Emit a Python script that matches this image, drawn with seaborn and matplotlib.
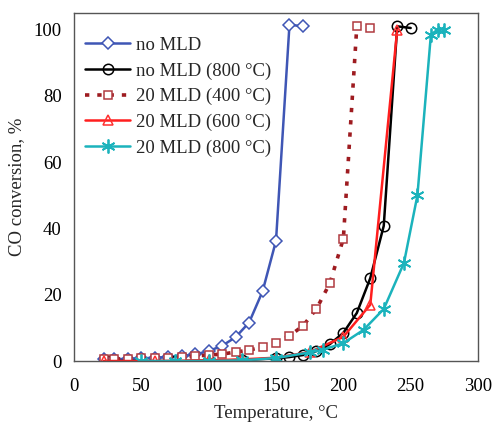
import matplotlib
matplotlib.use("Agg")
import matplotlib.pyplot as plt
import seaborn as sns
import pandas as pd

# ---- data ----
noMLD_x = [22, 30, 40, 50, 60, 70, 80, 90, 100, 110, 120, 130, 140, 150, 160, 170]
noMLD_y = [0.5, 0.5, 0.7, 0.8, 1.0, 1.2, 1.5, 2.0, 3.0, 4.6, 7.2, 11.6, 21.0, 36.3, 101.5, 101.0]

noMLD800_x = [25, 50, 75, 100, 125, 150, 160, 170, 180, 190, 200, 210, 220, 230, 240, 250]
noMLD800_y = [0.0, 0.0, 0.0, 0.1, 0.3, 0.8, 1.2, 1.8, 3.0, 5.1, 8.5, 14.5, 25.0, 40.8, 101.0, 100.5]

mld400_x = [22, 30, 40, 50, 60, 70, 80, 90, 100, 110, 120, 130, 140, 150, 160, 170, 180, 190, 200, 210, 220]
mld400_y = [0.5, 0.6, 0.7, 0.8, 0.9, 1.0, 1.2, 1.5, 1.8, 2.1, 2.7, 3.3, 4.2, 5.4, 7.6, 10.6, 15.7, 23.5, 36.9, 101.0, 100.5]

mld600_x = [22, 60, 100, 125, 150, 175, 200, 220, 240]
mld600_y = [0.0, 0.0, 0.2, 0.5, 1.0, 2.7, 7.3, 17.0, 100.0]

mld800_x = [50, 75, 100, 125, 150, 175, 185, 200, 215, 230, 245, 255, 265, 270, 275]
mld800_y = [0.0, 0.0, 0.0, 0.2, 0.9, 2.6, 3.4, 5.4, 9.4, 15.7, 29.6, 50.0, 98.5, 100.0, 100.0]

labels = ["no MLD", "no MLD (800 °C)", "20 MLD (400 °C)", "20 MLD (600 °C)", "20 MLD (800 °C)"]
x_ticks = [0, 50, 100, 150, 200, 250, 300]
y_ticks = [0, 20, 40, 60, 80, 100]

# ---- style ----
sns.set_theme(style="white")
plt.rcParams['font.family'] = ['Liberation Serif', 'DejaVu Serif']

fig = plt.figure(figsize=(4.95, 4.22), dpi=100)
ax = fig.add_axes([0.1495, 0.1445, 0.8162, 0.8245])

series = [
    (noMLD_x, noMLD_y, labels[0], dict(color="#3F56B5", marker="D", markersize=6.3,
                                       markerfacecolor="white", markeredgecolor="#3F56B5",
                                       markeredgewidth=1.1, linestyle="-", linewidth=1.8)),
    (noMLD800_x, noMLD800_y, labels[1], dict(color="black", marker="o", markersize=7.5,
                                             markerfacecolor="none", markeredgecolor="black",
                                             markeredgewidth=1.1, linestyle="-", linewidth=1.8)),
    (mld400_x, mld400_y, labels[2], dict(color="#9E1B20", marker="s", markersize=6.3,
                                         markerfacecolor="white", markeredgecolor="#B03A40",
                                         markeredgewidth=1.1, linestyle=(0, (1.2, 2.2)),
                                         linewidth=2.6)),
    (mld600_x, mld600_y, labels[3], dict(color="#FF1E1E", marker="^", markersize=7.5,
                                         markerfacecolor="none", markeredgecolor="#FF3030",
                                         markeredgewidth=1.1, linestyle="-", linewidth=1.8)),
    (mld800_x, mld800_y, labels[4], dict(color="#1BB3BC", marker=(6, 2, 0), markersize=10,
                                         markeredgecolor="#1BB3BC", markeredgewidth=1.3,
                                         linestyle="-", linewidth=1.8)),
]

for xs, ys, lab, kw in series:
    df = pd.DataFrame({"T": xs, "C": ys})
    sns.lineplot(data=df, x="T", y="C", ax=ax, label=lab, sort=False,
                 estimator=None, **kw)

ax.set_xlim(0, 300)
ax.set_ylim(0, 105)
ax.set_xticks(x_ticks)
ax.set_yticks(y_ticks)
ax.tick_params(direction="in", length=5, width=0.9, color="#666666",
               labelsize=13.5, labelcolor="black")
ax.tick_params(axis="y", pad=9)
ax.tick_params(axis="x", pad=12)
for s in ax.spines.values():
    s.set_color("#555555")
    s.set_linewidth(1.0)
    s.set_visible(True)

ax.set_xlabel("Temperature, °C", fontsize=13.5, labelpad=7.5)
ax.set_ylabel("CO conversion, %", fontsize=13.5, labelpad=6)

leg = ax.legend(loc="upper left", frameon=False, fontsize=13.5, handlelength=2.4,
                handletextpad=0.3, labelspacing=0.45, borderaxespad=0.3,
                bbox_to_anchor=(-0.005, 0.97))

fig.savefig("out.png", dpi=100)
